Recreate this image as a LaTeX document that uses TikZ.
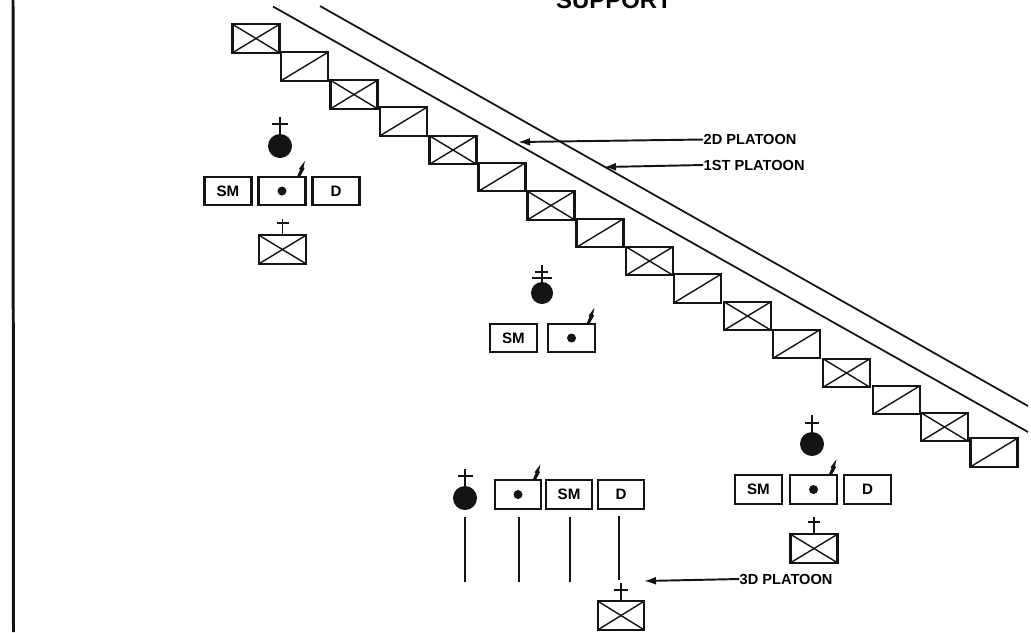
\documentclass[tikz,border=0pt]{standalone}
\usepackage{fontspec}
\setmainfont{Liberation Sans}
\usetikzlibrary{arrows.meta, positioning}
\definecolor{inkblack}{RGB}{20,20,20}
\tikzset{
  unitbox/.style={
    draw=inkblack,
    line width=0.6pt,
    inner sep=0pt,
    outer sep=0pt,
    minimum width=4.7mm,
    minimum height=2.85mm,
    font=\fontsize{4.3pt}{5pt}\bfseries
  },
  xbox/.style={
    unitbox,
    path picture={
      \draw[line width=0.4pt] (path picture bounding box.south west) -- (path picture bounding box.north east);
      \draw[line width=0.4pt] (path picture bounding box.north west) -- (path picture bounding box.south east);
    }
  },
  slashbox/.style={
    unitbox,
    path picture={
      \draw[line width=0.4pt] (path picture bounding box.south west) -- (path picture bounding box.north east);
    }
  },
  dotbox/.style={
    unitbox,
    path picture={
      \fill[inkblack] (path picture bounding box.center) circle (0.45mm);
    }
  },
  leader/.style={circle, fill=inkblack, inner sep=0pt, outer sep=0pt, minimum size=2.4mm},
  platoon/.style={font=\fontsize{4.15pt}{5pt}\bfseries, inner sep=0pt, anchor=west},
  rule/.style={draw=inkblack, line width=0.5pt},
  pointer/.style={-{Latex[length=1.2mm,width=0.8mm]}, draw=inkblack, line width=0.55pt},
  crossmark/.style={draw=inkblack, line width=0.5pt}
}
% radio flash on the top edge of a box
\newcommand{\flash}[1]{
  \fill[inkblack] ([xshift=-0.85mm]#1.north east) -- ++(3,-7) -- ++(-1,-1) -- ++(6,-8) -- ++(-1.5,7) -- ++(1,1) -- ++(-4.5,8) -- cycle;
}
\begin{document}
\begin{tikzpicture}[x=0.01cm, y=-0.01cm, node distance=0.7mm]
\useasboundingbox (0,0) rectangle (1031,632);

\node[font=\fontsize{6.8pt}{8pt}\bfseries, inner sep=0pt, anchor=base] (title) at (614,8) {SUPPORT};
\coordinate (edgetop) at (13,0);
\coordinate (edgebot) at (13.5,632);
\draw[inkblack, line width=0.85pt] (edgetop) -- (edgebot);

% stair of vehicles
\node[xbox] (v1) at (256,38.5) {};
\node[slashbox] (v2) at (304.5,66.5) {};
\node[xbox] (v3) at (354,94.5) {};
\node[slashbox] (v4) at (403.5,121.5) {};
\node[xbox] (v5) at (453,150) {};
\node[slashbox] (v6) at (502,177) {};
\node[xbox] (v7) at (551,205.5) {};
\node[slashbox] (v8) at (600,233) {};
\node[xbox] (v9) at (649.5,261) {};
\node[slashbox] (v10) at (697.5,288.5) {};
\node[xbox] (v11) at (747.5,316) {};
\node[slashbox] (v12) at (796.5,344) {};
\node[xbox] (v13) at (846.5,373) {};
\node[slashbox] (v14) at (896.5,400) {};
\node[xbox] (v15) at (944.5,427) {};
\node[slashbox] (v16) at (994,452.5) {};

% the two route lines
\coordinate (seconda) at (273,6.5);
\coordinate (secondb) at (1028,432);
\coordinate (firsta) at (320,6);
\coordinate (firstb) at (1028,406);
\draw[rule] (seconda) -- (secondb);
\draw[rule] (firsta) -- (firstb);

\node[platoon] (second) at (703,139.5) {2D PLATOON};
\node[platoon] (first) at (703,165) {1ST PLATOON};
\coordinate (secondtip) at (518,142);
\coordinate (firsttip) at (604,167);
\draw[pointer] (second.west) -- (secondtip);
\draw[pointer] (first.west) -- (firsttip);

% group upper left
\node[dotbox] (gadot) at (282,191) {};
\node[unitbox, left=of gadot] (gasm) {SM};
\node[unitbox, right=of gadot] (gad) {D};
\node[leader] (galead) at (280,146) {};
\node[xbox] (gaveh) at (282.5,249.5) {};
\flash{gadot}
\draw[crossmark] (galead.north) -- ++(0,-17) ++(-8,7) -- ++(16,0);
\draw[crossmark] (gaveh.north) -- ++(0,-16) ++(-6,4) -- ++(12,0);

% group centre
\node[dotbox] (gbdot) at (571.5,338) {};
\node[unitbox, left=1.1mm of gbdot] (gbsm) {SM};
\node[leader, minimum size=2.2mm] (gblead) at (542,293) {};
\flash{gbdot}
\draw[crossmark] (gblead.north) -- ++(0,-17) ++(-7,7) -- ++(13,0) ++(-16,6) -- ++(20,0);

% group lower right
\node[dotbox] (gcdot) at (813.5,489.5) {};
\node[unitbox, left=0.8mm of gcdot] (gcsm) {SM};
\node[unitbox, right=0.7mm of gcdot] (gcd) {D};
\node[leader] (gclead) at (812,444) {};
\node[xbox] (gcveh) at (814,548.5) {};
\flash{gcdot}
\draw[crossmark] (gclead.north) -- ++(0,-17) ++(-7,8) -- ++(14,0);
\draw[crossmark] (gcveh.north) -- ++(0,-17) ++(-6,5) -- ++(12,0);

% group in column
\node[leader] (gdlead) at (465,498) {};
\node[dotbox, minimum width=4.6mm] (gddot) at (518,494.5) {};
\node[unitbox, minimum width=4.6mm, right=0.5mm of gddot] (gdsm) {SM};
\node[unitbox, minimum width=4.6mm, right=0.6mm of gdsm] (gdd) {D};
\node[xbox, minimum width=4.6mm] (gdveh) at (621,615.5) {};
\flash{gddot}
\draw[crossmark] (gdlead.north) -- ++(0,-17) ++(-7,7) -- ++(15,0);
\draw[crossmark] (gdveh.north) -- ++(0,-18) ++(-7,7) -- ++(14,0);

\coordinate (colatop) at (465,517);
\coordinate (colabot) at (465,582);
\coordinate (colbtop) at (519,517);
\coordinate (colbbot) at (519,582);
\coordinate (colctop) at (570,517);
\coordinate (colcbot) at (570,582);
\coordinate (coldtop) at (619,516);
\coordinate (coldbot) at (619,580);
\draw[rule] (colatop) -- (colabot);
\draw[rule] (colbtop) -- (colbbot);
\draw[rule] (colctop) -- (colcbot);
\draw[rule] (coldtop) -- (coldbot);

\node[platoon] (third) at (739,579) {3D PLATOON};
\coordinate (thirdtip) at (644,581);
\draw[pointer] (third.west) -- (thirdtip);

\end{tikzpicture}
\end{document}
